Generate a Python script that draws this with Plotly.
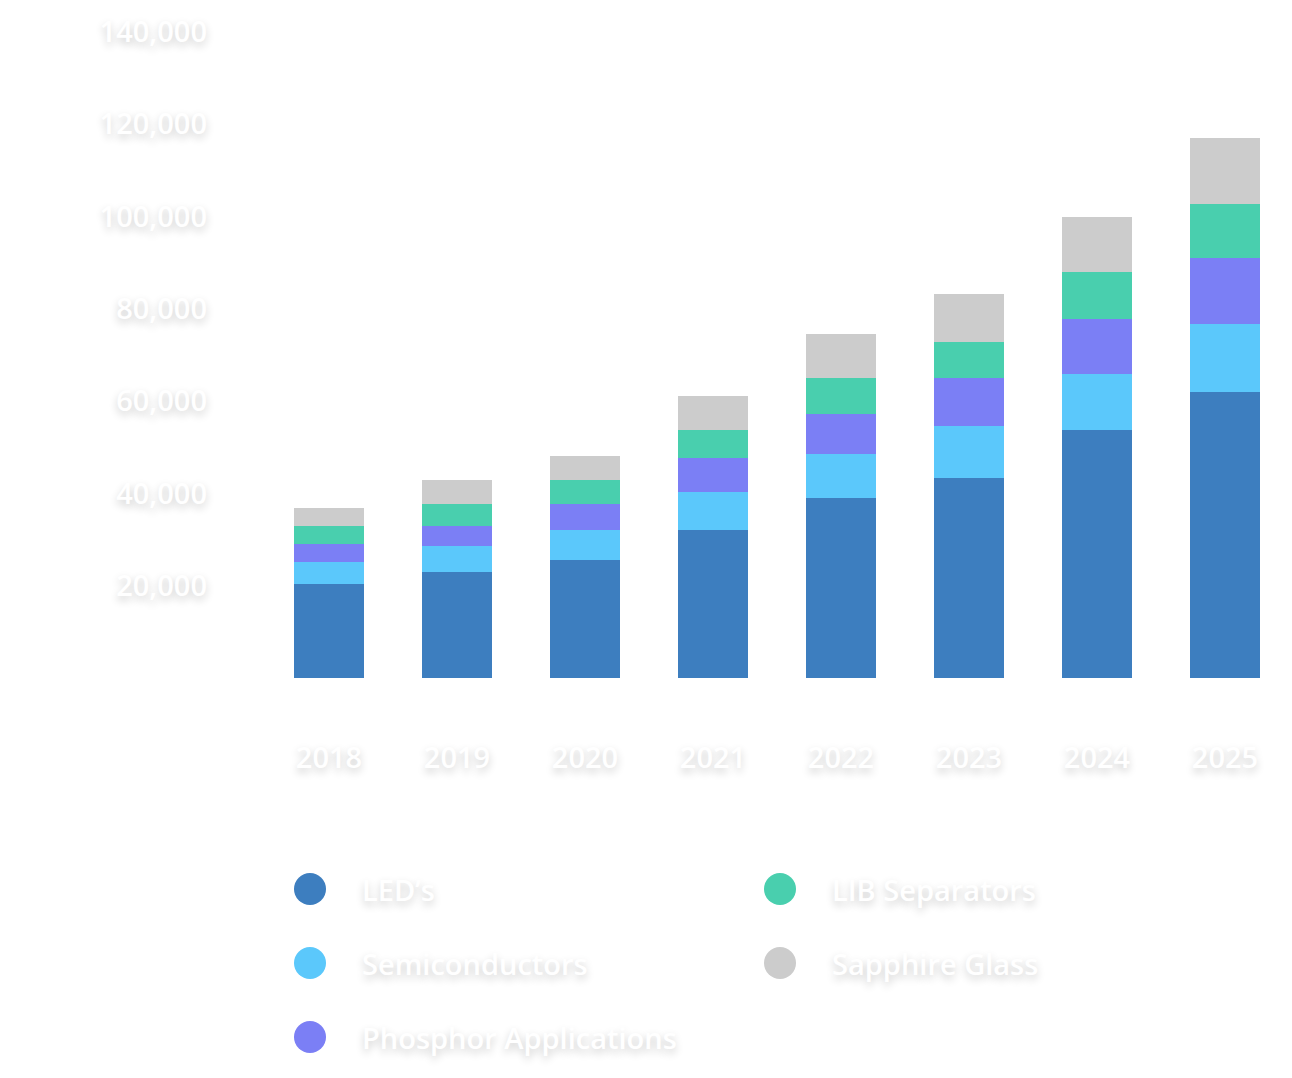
import plotly.graph_objects as go

years = ["2018", "2019", "2020", "2021", "2022", "2023", "2024", "2025"]
leds = [20400, 23000, 25600, 32100, 39000, 43300, 53700, 62000]
semiconductors = [4800, 5600, 6500, 8200, 9500, 11300, 12100, 14700]
phosphor = [3900, 4300, 5600, 7400, 8700, 10400, 12100, 14300]
lib_separators = [3900, 4800, 5200, 6100, 7800, 7800, 10000, 11700]
sapphire = [3900, 5200, 5200, 7400, 9500, 10400, 12100, 14300]

series = [
    ("LED’s", leds, "#3d7ebf"),
    ("Semiconductors", semiconductors, "#5bc8fb"),
    ("Phosphor Applications", phosphor, "#7b7ff5"),
    ("LIB Separators", lib_separators, "#49cfae"),
    ("Sapphire Glass", sapphire, "#cccccc"),
]

# page has an 8px body margin, so figure coords are page coords minus 8
W, H = 1292, 1078
L, R, T, B = 257, 11, 24, 408
shadow = "0px 4px 8px rgba(0,0,0,0.2)"
font = dict(family="Open Sans, Lato, sans-serif", size=29, weight=600, color="white", shadow=shadow)

fig = go.Figure()
for name, vals, color in series:
    fig.add_trace(go.Bar(x=years, y=vals, name=name, marker=dict(color=color, line_width=0),
                         showlegend=False))


def px_x(px):
    return (px - L) / (W - L - R)


def px_y(py):
    return (H - B - py) / (H - T - B)


# legend drawn by hand: two columns, big circles
legend_pos = [(302, 881), (302, 955), (302, 1029), (772, 881), (772, 955)]
shapes = []
annotations = []
for (name, vals, color), (cx, cy) in zip(series, legend_pos):
    shapes.append(dict(type="circle", xref="paper", yref="paper",
                       xsizemode="pixel", ysizemode="pixel",
                       xanchor=px_x(cx), yanchor=px_y(cy),
                       x0=-16, x1=16, y0=-16, y1=16,
                       fillcolor=color, line_width=0))
    annotations.append(dict(text=name, xref="paper", yref="paper",
                            x=px_x(cx + 50), y=px_y(cy), xanchor="left", yanchor="middle",
                            showarrow=False, font=font))

fig.update_layout(
    width=W, height=H,
    margin=dict(l=L, r=R, t=T, b=B),
    paper_bgcolor="white", plot_bgcolor="white",
    barmode="stack", bargap=0.453,
    shapes=shapes, annotations=annotations,
    xaxis=dict(showgrid=False, zeroline=False, showline=False, ticks="", automargin=False,
               tickfont=font, ticklabelstandoff=60),
    yaxis=dict(range=[0, 140000], tickvals=[20000, 40000, 60000, 80000, 100000, 120000, 140000],
               tickformat=",d", showgrid=False, zeroline=False, showline=False, ticks="",
               automargin=False, tickfont=font, ticklabelstandoff=57),
)

fig.write_html("out.html")
